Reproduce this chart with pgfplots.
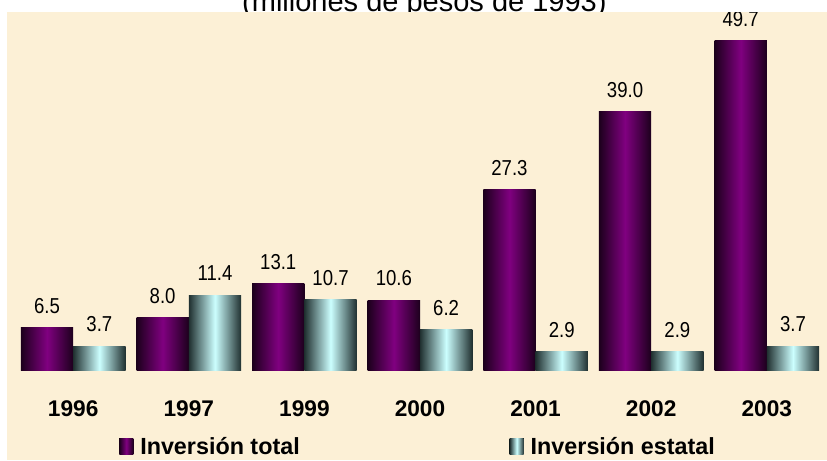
\documentclass[border=0pt]{standalone}
\usepackage{fontspec}
\setmainfont{Liberation Sans}
\newfontfamily\narrowfont[FakeStretch=0.86]{Liberation Sans}
\usepackage{pgfplots}
\pgfplotsset{compat=1.18}
\definecolor{bg}{RGB}{252,240,214}
\definecolor{purp}{RGB}{128,0,128}
\definecolor{purpdk}{RGB}{28,0,28}
\definecolor{cyanlt}{RGB}{204,255,255}
\definecolor{cyandk}{RGB}{32,48,48}

\pgfplotsset{
  totbar/.style={ybar, bar shift=0pt, draw=none, left color=purpdk, right color=purpdk, middle color=purp},
  estbar/.style={ybar, bar shift=0pt, draw=none, left color=cyandk, right color=cyandk, middle color=cyanlt},
}

\begin{document}
\begin{tikzpicture}[x=0.75pt,y=0.75pt]
\path[use as bounding box] (0,0) rectangle (827,460);
\node[anchor=base, inner sep=0pt, font=\fontsize{21.75}{24}\selectfont] at (424.4,448) {(millones de pesos de 1993)};
\begin{scope}
\clip (7,0) rectangle (827,447.7);
\fill[bg] (7,0) rectangle (827,447.7);
\begin{axis}[
    at={(5.25pt,0pt)}, anchor=south west,
    scale only axis, width=615pt, height=335.775pt,
    xmin=-0.5727, xmax=6.5208, ymin=-13.45, ymax=53.98,
    axis line style={draw=none}, major tick length=0pt,
    ytick=\empty,
    xtick={0,...,6},
    xticklabels={1996,1997,1999,2000,2001,2002,2003},
    xticklabel style={font=\bfseries\fontsize{17}{20}\selectfont, anchor=base, yshift=32.25pt},
    bar width=0.4524,
    nodes near coords={\pgfmathprintnumber[fixed,fixed zerofill,precision=1,assume math mode=true]{\pgfplotspointmeta}},
    nodes near coords style={font=\narrowfont\fontsize{16.2}{19}\selectfont, anchor=base, yshift=10.8pt, inner sep=0pt},
    legend columns=2,
    legend cell align=left,
    legend style={draw=none, fill=none, inner sep=0pt, at={(0.1366,0.0067)}, anchor=south west,
        font=\bfseries\fontsize{17.5}{20}\selectfont,
        nodes={inner sep=0pt},
        /tikz/every odd column/.append style={column sep=5.25pt},
        /tikz/every even column/.append style={column sep=157.5pt}},
    legend image code/.code={\fill[#1] (0pt,-5.25pt) rectangle (10.5pt,6.75pt);},
]
% Inversion total (purple) and Inversion estatal (cyan), one bar per plot
\addplot[totbar] coordinates {(-0.2262,6.5)};
\addlegendentry{Inversión total}
\addplot[estbar] coordinates {(0.2262,3.7)};
\addlegendentry{Inversión estatal}
\addplot[totbar, forget plot] coordinates {(0.7738,8.0)};
\addplot[estbar, forget plot] coordinates {(1.2262,11.4)};
\addplot[totbar, forget plot] coordinates {(1.7738,13.1)};
\addplot[estbar, forget plot] coordinates {(2.2262,10.7)};
\addplot[totbar, forget plot] coordinates {(2.7738,10.6)};
\addplot[estbar, forget plot] coordinates {(3.2262,6.2)};
\addplot[totbar, forget plot] coordinates {(3.7738,27.3)};
\addplot[estbar, forget plot] coordinates {(4.2262,2.9)};
\addplot[totbar, forget plot] coordinates {(4.7738,39.0)};
\addplot[estbar, forget plot] coordinates {(5.2262,2.9)};
\addplot[totbar, forget plot] coordinates {(5.7738,49.7)};
\addplot[estbar, forget plot] coordinates {(6.2262,3.7)};
\end{axis}
\end{scope}
\end{tikzpicture}
\end{document}
